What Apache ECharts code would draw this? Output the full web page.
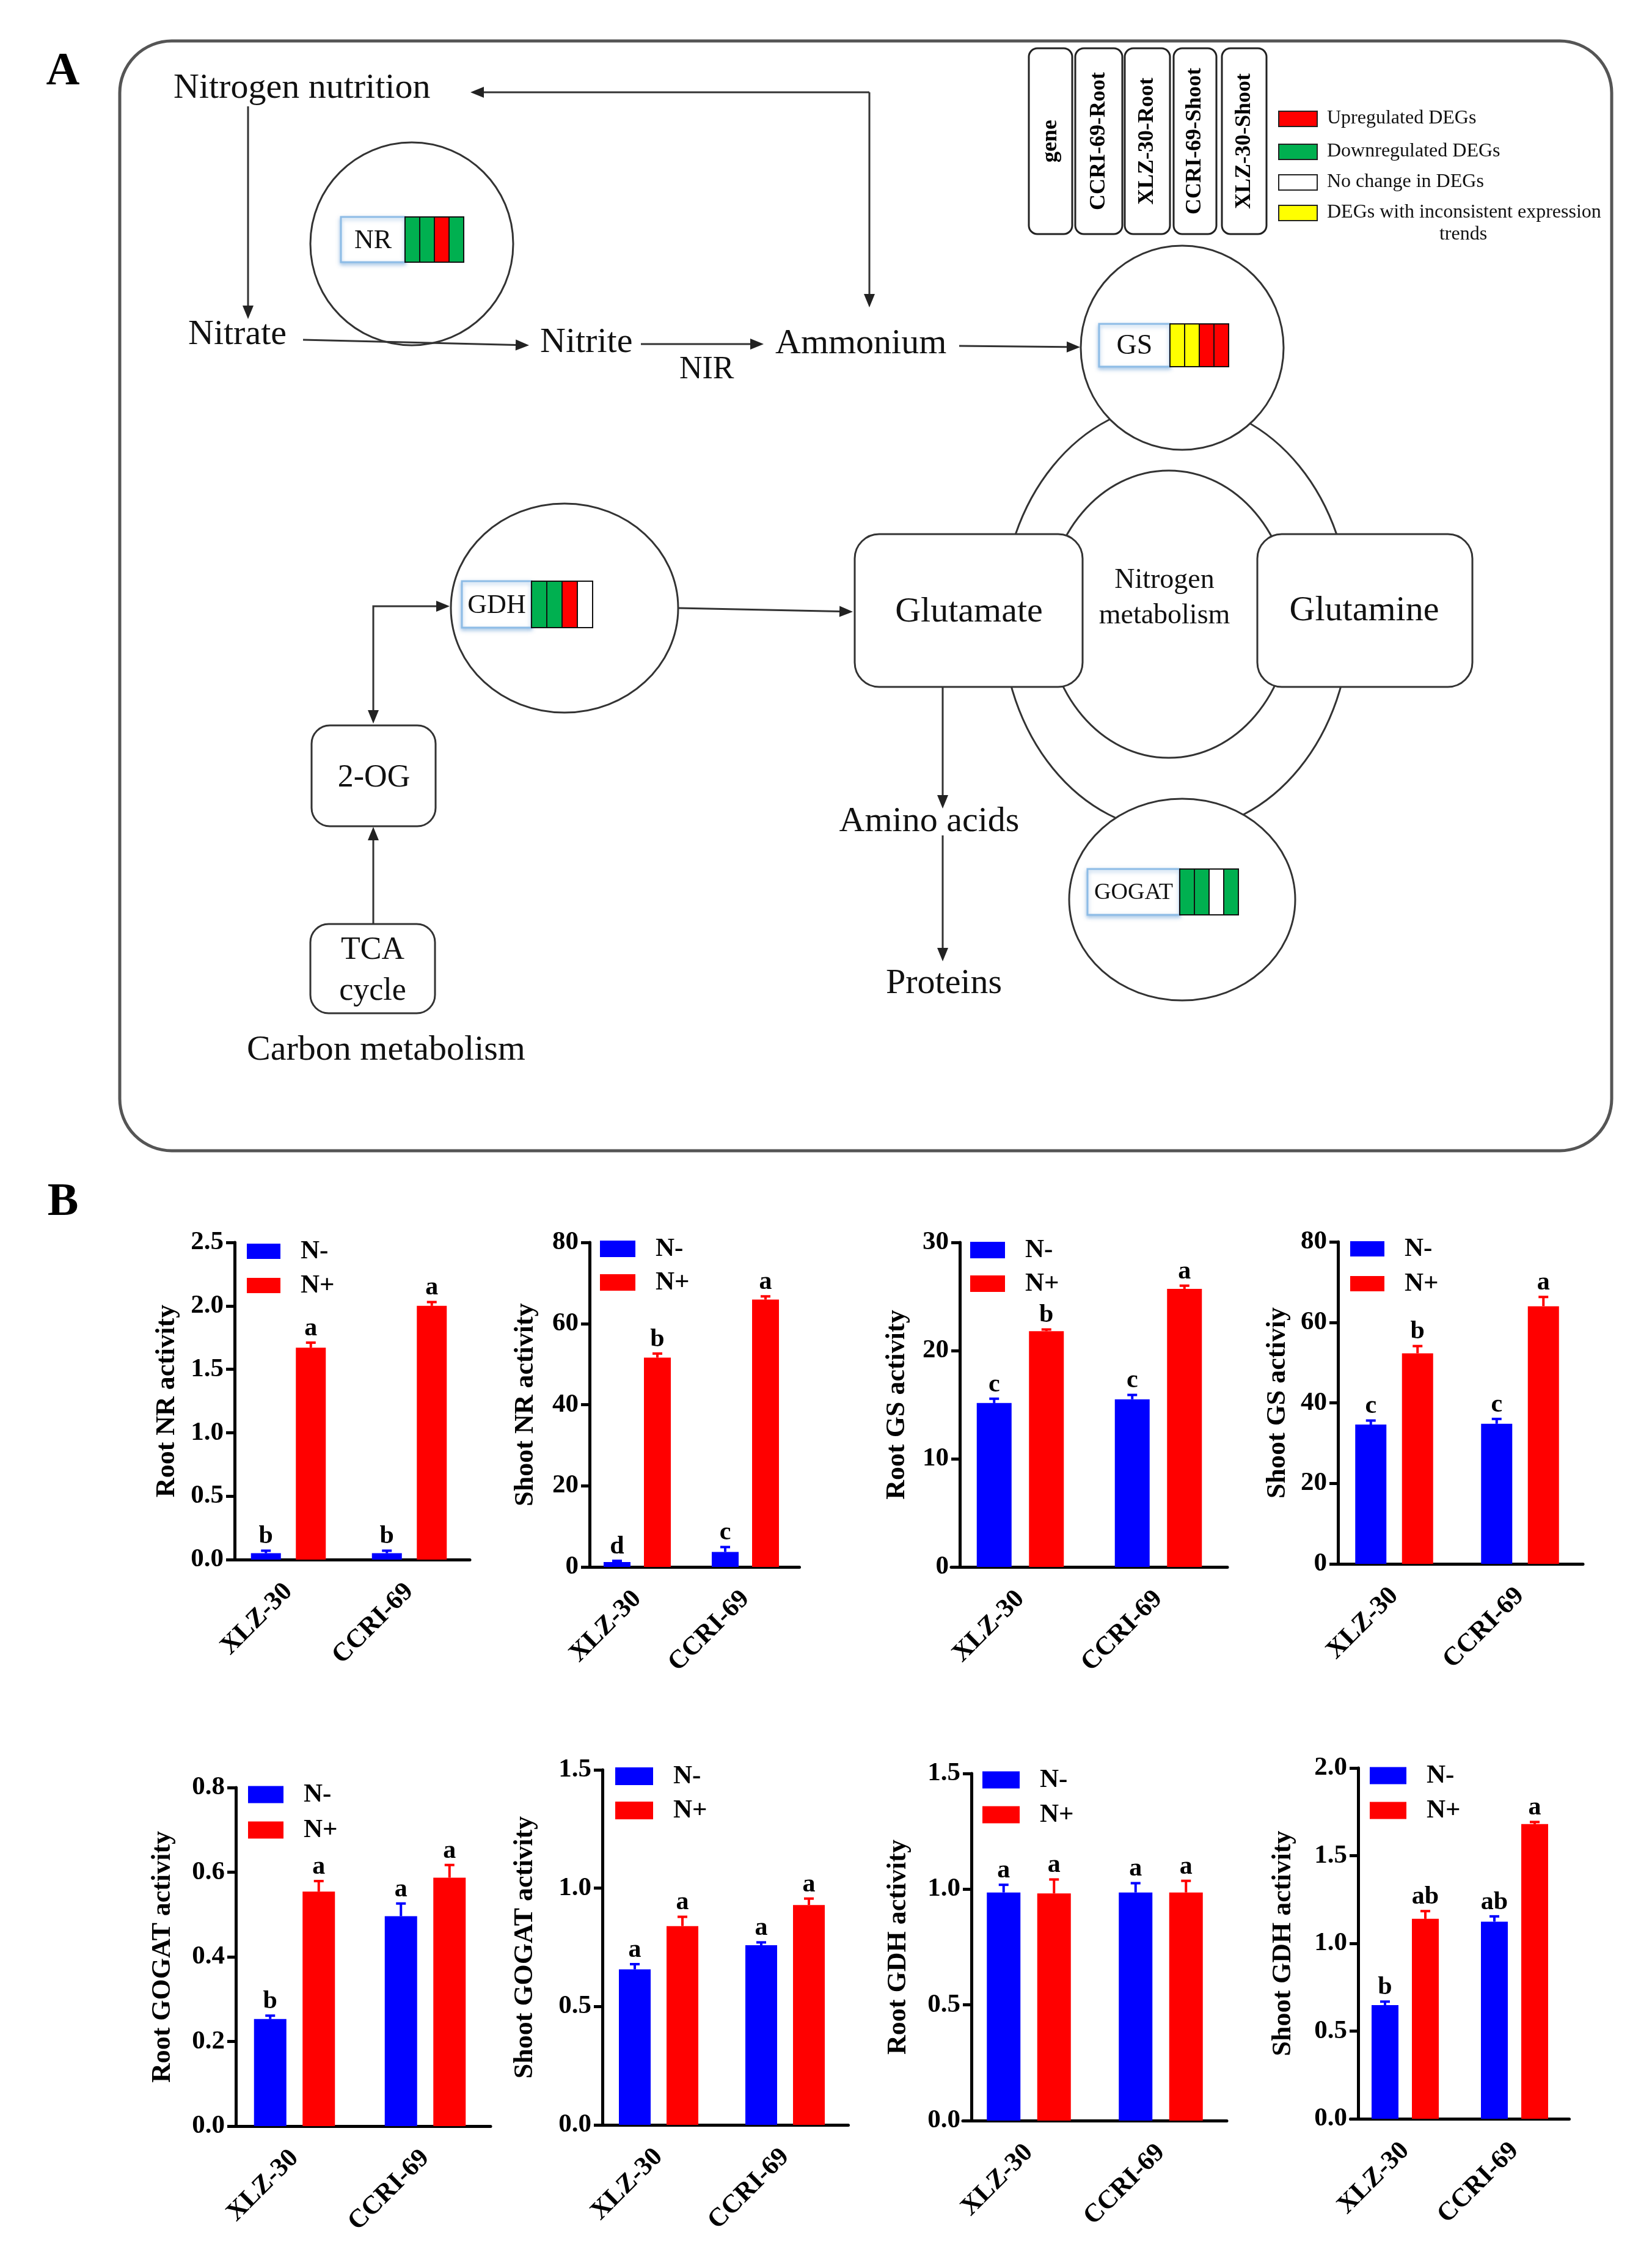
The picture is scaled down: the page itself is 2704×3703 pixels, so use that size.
<!DOCTYPE html>
<html><head><meta charset="utf-8">
<script src="https://cdn.jsdelivr.net/npm/echarts@6/dist/echarts.min.js"></script>
<style>html,body{margin:0;padding:0;background:#fff}#c{width:2704px;height:3703px}</style>
</head><body><div id="c"></div>
<script>
// ---------------- DATA ----------------
const cultivars = ['XLZ-30', 'CCRI-69'];
const treatments = ['N-', 'N+'];
const axisTitles = ['Root NR activity', 'Shoot NR activity', 'Root GS activity', 'Shoot GS activiy',
  'Root GOGAT activity', 'Shoot GOGAT activity', 'Root GDH activity', 'Shoot GDH activity'];
const yMax = [2.5, 80, 30, 80, 0.8, 1.5, 1.5, 2.0];
const yStep = [0.5, 20, 10, 20, 0.2, 0.5, 0.5, 0.5];
const yDecimals = [1, 0, 0, 0, 1, 1, 1, 1];

const rootNR_minus = [0.05, 0.05], rootNR_minusErr = [0.02, 0.02], rootNR_minusSig = ['b', 'b'];
const rootNR_plus = [1.67, 2.00], rootNR_plusErr = [0.04, 0.03], rootNR_plusSig = ['a', 'a'];
const shootNR_minus = [1.2, 3.7], shootNR_minusErr = [0.3, 1.2], shootNR_minusSig = ['d', 'c'];
const shootNR_plus = [51.6, 65.9], shootNR_plusErr = [1.0, 0.8], shootNR_plusSig = ['b', 'a'];
const rootGS_minus = [15.15, 15.5], rootGS_minusErr = [0.4, 0.4], rootGS_minusSig = ['c', 'c'];
const rootGS_plus = [21.8, 25.7], rootGS_plusErr = [0.15, 0.3], rootGS_plusSig = ['b', 'a'];
const shootGS_minus = [34.6, 34.8], shootGS_minusErr = [1.0, 1.2], shootGS_minusSig = ['c', 'c'];
const shootGS_plus = [52.3, 64.0], shootGS_plusErr = [1.8, 2.3], shootGS_plusSig = ['b', 'a'];
const rootGOGAT_minus = [0.253, 0.496], rootGOGAT_minusErr = [0.008, 0.03], rootGOGAT_minusSig = ['b', 'a'];
const rootGOGAT_plus = [0.554, 0.587], rootGOGAT_plusErr = [0.025, 0.03], rootGOGAT_plusSig = ['a', 'a'];
const shootGOGAT_minus = [0.657, 0.759], shootGOGAT_minusErr = [0.022, 0.012], shootGOGAT_minusSig = ['a', 'a'];
const shootGOGAT_plus = [0.840, 0.929], shootGOGAT_plusErr = [0.039, 0.027], shootGOGAT_plusSig = ['a', 'a'];
const rootGDH_minus = [0.986, 0.986], rootGDH_minusErr = [0.033, 0.04], rootGDH_minusSig = ['a', 'a'];
const rootGDH_plus = [0.982, 0.986], rootGDH_plusErr = [0.06, 0.05], rootGDH_plusSig = ['a', 'a'];
const shootGDH_minus = [0.648, 1.124], shootGDH_minusErr = [0.02, 0.03], shootGDH_minusSig = ['b', 'ab'];
const shootGDH_plus = [1.14, 1.68], shootGDH_plusErr = [0.044, 0.012], shootGDH_plusSig = ['ab', 'a'];

// gene expression status: CCRI-69-Root, XLZ-30-Root, CCRI-69-Shoot, XLZ-30-Shoot
const NR_status = ['down', 'down', 'up', 'down'];
const GS_status = ['mixed', 'mixed', 'up', 'up'];
const GDH_status = ['down', 'down', 'up', 'none'];
const GOGAT_status = ['down', 'down', 'none', 'down'];
const headerLabels = ['gene', 'CCRI-69-Root', 'XLZ-30-Root', 'CCRI-69-Shoot', 'XLZ-30-Shoot'];
const keyLabels = ['Upregulated DEGs', 'Downregulated DEGs', 'No change in DEGs', 'DEGs with inconsistent expression'];
const keyStatus = ['up', 'down', 'none', 'mixed'];

const panelData = [
  [rootNR_minus, rootNR_minusErr, rootNR_minusSig, rootNR_plus, rootNR_plusErr, rootNR_plusSig],
  [shootNR_minus, shootNR_minusErr, shootNR_minusSig, shootNR_plus, shootNR_plusErr, shootNR_plusSig],
  [rootGS_minus, rootGS_minusErr, rootGS_minusSig, rootGS_plus, rootGS_plusErr, rootGS_plusSig],
  [shootGS_minus, shootGS_minusErr, shootGS_minusSig, shootGS_plus, shootGS_plusErr, shootGS_plusSig],
  [rootGOGAT_minus, rootGOGAT_minusErr, rootGOGAT_minusSig, rootGOGAT_plus, rootGOGAT_plusErr, rootGOGAT_plusSig],
  [shootGOGAT_minus, shootGOGAT_minusErr, shootGOGAT_minusSig, shootGOGAT_plus, shootGOGAT_plusErr, shootGOGAT_plusSig],
  [rootGDH_minus, rootGDH_minusErr, rootGDH_minusSig, rootGDH_plus, rootGDH_plusErr, rootGDH_plusSig],
  [shootGDH_minus, shootGDH_minusErr, shootGDH_minusSig, shootGDH_plus, shootGDH_plusErr, shootGDH_plusSig]
];

// ---------------- LAYOUT / STYLE ----------------
const FS = '"Liberation Serif","Times New Roman",serif';
const BLUE = '#0000ff', RED = '#ff0000';
const statusColor = { up: '#ff0000', down: '#00b050', none: '#ffffff', mixed: '#ffff00' };
const layouts = [
  { ax: 384, top: 2033, zero: 2552, c1: 472, c2: 670, bw: 49, lg: [404, 2026], lw: 55, ih: 25, ig: 13, nd: 112 },
  { ax: 965, top: 2033, zero: 2564, c1: 1043, c2: 1220, bw: 44, lg: [982, 2022], lw: 58, ih: 27, ig: 12, nd: 106 },
  { ax: 1571, top: 2033, zero: 2564, c1: 1670, c2: 1896, bw: 57, lg: [1588, 2024], lw: 57, ih: 27, ig: 12, nd: 104 },
  { ax: 2190, top: 2032, zero: 2559, c1: 2282, c2: 2488, bw: 51, lg: [2210, 2022], lw: 56, ih: 25, ig: 14, nd: 100 },
  { ax: 386, top: 2925, zero: 3479, c1: 482, c2: 696, bw: 53, lg: [406, 2915], lw: 58, ih: 28, ig: 15, nd: 121 },
  { ax: 986, top: 2896, zero: 3477, c1: 1078, c2: 1285, bw: 52, lg: [1007, 2885], lw: 62, ih: 29, ig: 13, nd: 128 },
  { ax: 1590, top: 2902, zero: 3470, c1: 1684, c2: 1900, bw: 55, lg: [1608, 2891], lw: 61, ih: 28, ig: 14, nd: 121 },
  { ax: 2223, top: 2893, zero: 3467, c1: 2300, c2: 2479, bw: 44, lg: [2242, 2884], lw: 60, ih: 28, ig: 14, nd: 124 }
];

const grids = [], xAxes = [], yAxes = [], series = [], legends = [];
layouts.forEach((L, i) => {
  const sp = L.c2 - L.c1;
  const gl = L.c1 - sp / 2;
  grids.push({ left: gl, top: L.top, width: 2 * sp, height: L.zero - L.top });
  xAxes.push({
    gridIndex: i, type: 'category', data: cultivars,
    axisLine: { lineStyle: { color: '#000', width: 5 } },
    axisTick: { alignWithLabel: true, length: 16, lineStyle: { color: '#000', width: 5 } },
    axisLabel: { rotate: 45, margin: 46, color: '#000', fontFamily: FS, fontWeight: 'bold', fontSize: 43 },
    splitLine: { show: false }
  });
  const dec = yDecimals[i];
  yAxes.push({
    gridIndex: i, type: 'value', min: 0, max: yMax[i], interval: yStep[i],
    offset: gl - L.ax,
    axisLine: { show: true, lineStyle: { color: '#000', width: 5 } },
    axisTick: { show: true, length: 14, lineStyle: { color: '#000', width: 5 } },
    splitLine: { show: false },
    axisLabel: { margin: 18, color: '#000', fontFamily: FS, fontWeight: 'bold', fontSize: 43,
      formatter: v => Number(v).toFixed(dec) },
    name: axisTitles[i], nameLocation: 'middle', nameGap: L.nd - 24,
    nameTextStyle: { color: '#000', fontFamily: FS, fontWeight: 'bold', fontSize: 44 }
  });
  legends.push({
    left: L.lg[0], top: L.lg[1], orient: 'vertical', selectedMode: false,
    itemWidth: L.lw, itemHeight: L.ih, itemGap: L.ig, icon: 'rect', padding: 0,
    data: treatments,
    textStyle: { color: '#000', fontFamily: FS, fontWeight: 'bold', fontSize: 43, lineHeight: L.ih, padding: [0, 0, 0, 28] }
  });
  const D = panelData[i];
  const groups = [
    { name: 'N-', mean: D[0], err: D[1], sig: D[2], color: BLUE, shift: -0.75 * L.bw },
    { name: 'N+', mean: D[3], err: D[4], sig: D[5], color: RED, shift: 0.75 * L.bw }
  ];
  groups.forEach(gp => {
    series.push({
      type: 'bar', name: gp.name, xAxisIndex: i, yAxisIndex: i,
      data: gp.mean, barWidth: L.bw, barGap: '50%',
      itemStyle: { color: gp.color }, emphasis: { disabled: true }
    });
  });
  groups.forEach(gp => {
    series.push({
      type: 'custom', name: 'err' + i + gp.name, xAxisIndex: i, yAxisIndex: i, z: 5,
      encode: { x: 0, y: 1 },
      data: gp.mean.map((m, k) => [k, m, gp.err[k]]),
      renderItem: (params, api) => {
        const k = api.value(0), v = api.value(1), e = api.value(2);
        const b = api.coord([k, v]), t = api.coord([k, v + e]);
        const x = b[0] + gp.shift;
        const s = { stroke: gp.color, lineWidth: 4 };
        return { type: 'group', children: [
          { type: 'line', shape: { x1: x, y1: b[1], x2: x, y2: t[1] }, style: s },
          { type: 'line', shape: { x1: x - 8, y1: t[1], x2: x + 8, y2: t[1] }, style: s },
          { type: 'text', style: { text: gp.sig[params.dataIndex], x: x, y: t[1] - 2,
            textAlign: 'center', align: 'center', textVerticalAlign: 'bottom', verticalAlign: 'bottom',
            font: 'bold 42px ' + FS, fill: '#000' } }
        ] };
      }
    });
  });
});

// ---------------- PANEL A DIAGRAM ----------------
const g = [];
function T(text, x, y, size, o) {
  o = o || {};
  g.push({ type: 'text', x: x, y: y, rotation: o.rot || 0, z: 20,
    style: { text: text, x: 0, y: 0, font: (o.bold ? 'bold ' : '') + size + 'px ' + FS, fill: o.fill || '#111',
      textAlign: o.align || 'center', align: o.align || 'center', textVerticalAlign: 'middle', verticalAlign: 'middle' } });
}
function R(x, y, w, h, r, o) {
  o = o || {};
  g.push({ type: 'rect', z: o.z || 3, shape: { x: x, y: y, width: w, height: h, r: r },
    style: { fill: o.fill === undefined ? '#fff' : o.fill, stroke: o.stroke || '#333', lineWidth: o.lw || 3,
      shadowBlur: o.sb || 0, shadowColor: o.sc || 'transparent', shadowOffsetY: o.sy || 0 } });
}
function E(cx, cy, rx, ry, z) {
  g.push({ type: 'ellipse', z: z, shape: { cx: cx, cy: cy, rx: rx, ry: ry }, style: { fill: '#fff', stroke: '#333', lineWidth: 3 } });
}
function head(x2, y2, ang) {
  const Lh = 22, W = 9;
  const bx = x2 - Lh * Math.cos(ang), by = y2 - Lh * Math.sin(ang);
  const px = -Math.sin(ang) * W, py = Math.cos(ang) * W;
  g.push({ type: 'polygon', z: 8, shape: { points: [[x2, y2], [bx + px, by + py], [bx - px, by - py]] }, style: { fill: '#222' } });
  return [bx, by];
}
function arrow(pts, startHead) {
  const p = pts.map(q => q.slice());
  const n = p.length;
  const a1 = Math.atan2(p[n - 1][1] - p[n - 2][1], p[n - 1][0] - p[n - 2][0]);
  p[n - 1] = head(p[n - 1][0], p[n - 1][1], a1);
  if (startHead) {
    const a0 = Math.atan2(p[0][1] - p[1][1], p[0][0] - p[1][0]);
    p[0] = head(p[0][0], p[0][1], a0);
  }
  g.push({ type: 'polyline', z: 7, shape: { points: p }, style: { stroke: '#333', lineWidth: 3, fill: null } });
}
function gene(label, x, y, lw, h, cw, states, fsz) {
  R(x, y, lw, h, 0, { stroke: '#8dbce6', lw: 3, z: 5, sb: 6, sc: 'rgba(90,150,210,0.5)', sy: 3 });
  T(label, x + lw / 2, y + h / 2 + 2, fsz);
  states.forEach((s, i) => R(x + lw + i * cw, y, cw, h, 0, { fill: statusColor[s], stroke: '#111', lw: 2, z: 6 }));
}

// frame & panel letters
R(196, 67, 2442, 1816, 85, { fill: 'rgba(0,0,0,0)', stroke: '#555', lw: 5, z: 0 });
T('A', 103, 118, 76, { bold: true, fill: '#000' });
T('B', 103, 1968, 76, { bold: true, fill: '#000' });

// nitrogen metabolism ring
E(1925, 1010, 285, 350, 1);
E(1913, 1005, 200, 235, 2);
R(1399, 874, 373, 250, 40, { z: 3 });
R(2058, 874, 352, 250, 40, { z: 3 });
R(510, 1187, 203, 165, 30, { z: 3 });
R(508, 1512, 204, 146, 30, { z: 3 });

// enzyme circles
E(674, 399, 166, 166, 4);
E(1935, 569, 166, 167, 4);
E(924, 995, 186, 171, 4);
E(1935, 1472, 185, 165, 4);

gene('NR', 558, 355, 105, 74, 24, NR_status, 44);
gene('GS', 1799, 530, 116, 70, 24, GS_status, 46);
gene('GDH', 756, 951, 114, 76, 25, GDH_status, 44);
gene('GOGAT', 1780, 1422, 151, 75, 24, GOGAT_status, 38);

// header columns
const colX = [1684, 1760, 1841, 1921, 2000], colW = [71, 77, 74, 70, 73];
headerLabels.forEach((s, i) => {
  R(colX[i], 79, colW[i], 304, 14, { z: 3, stroke: '#222', lw: 3 });
  T(s, colX[i] + colW[i] / 2, 231, 36, { bold: true, rot: Math.PI / 2, fill: '#000' });
});
// key
const keyY = [182, 236, 286, 336];
keyStatus.forEach((s, i) => {
  R(2093, keyY[i], 63, 25, 0, { fill: statusColor[s], stroke: '#222', lw: 2, z: 3 });
  T(keyLabels[i], 2172, keyY[i] + 12, 32, { align: 'left', fill: '#111' });
});
T('trends', 2395, 384, 32);

// arrows
arrow([[406, 174], [406, 522]]);
arrow([[1423, 151], [770, 151]]);
arrow([[1423, 151], [1423, 503]]);
arrow([[496, 556], [866, 565]]);
arrow([[1049, 563], [1250, 563]]);
arrow([[1570, 566], [1768, 568]]);
arrow([[1111, 995], [1396, 1001]]);
arrow([[736, 992], [611, 992], [611, 1184]], true);
arrow([[611, 1512], [611, 1353]]);
arrow([[1543, 1124], [1543, 1323]]);
arrow([[1543, 1367], [1543, 1573]]);

// labels
T('Nitrogen nutrition', 284, 145, 58, { align: 'left' });
T('Nitrate', 308, 548, 58, { align: 'left' });
T('Nitrite', 884, 561, 58, { align: 'left' });
T('NIR', 1112, 605, 52, { align: 'left' });
T('Ammonium', 1269, 563, 58, { align: 'left' });
T('Glutamate', 1586, 1002, 58);
T('Glutamine', 2233, 1000, 58);
T('Nitrogen', 1906, 950, 46);
T('metabolism', 1906, 1008, 46);
T('2-OG', 612, 1273, 52);
T('Amino acids', 1521, 1345, 58);
T('TCA', 610, 1555, 52);
T('cycle', 610, 1622, 52);
T('Carbon metabolism', 632, 1719, 58);
T('Proteins', 1545, 1610, 58);

const chart = echarts.init(document.getElementById('c'), null, { renderer: 'canvas', width: 2704, height: 3703 });
chart.setOption({
  backgroundColor: '#fff',
  animation: false,
  grid: grids, xAxis: xAxes, yAxis: yAxes, legend: legends, series: series,
  graphic: { elements: g }
});
</script></body></html>
